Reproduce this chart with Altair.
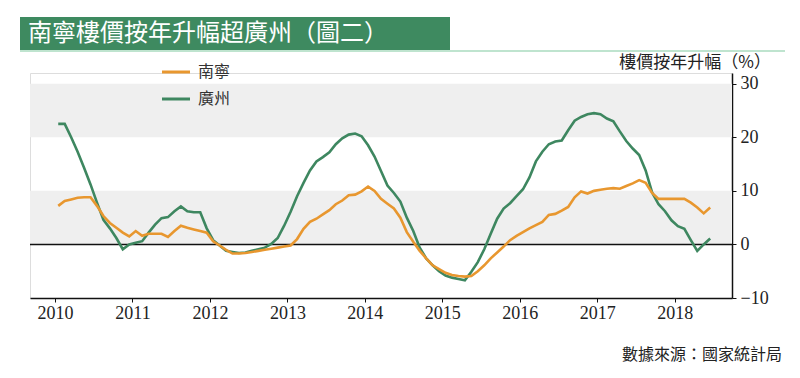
import altair as alt
import pandas as pd

# ---- data (monthly, 2010-01 .. 2018-06) ----
months = pd.date_range("2010-01-01", "2018-06-01", freq="MS")

nanning = [
    7.2, 8.1, 8.4, 8.7, 8.8, 8.8, 7.2, 5.3, 4.0, 3.1, 2.2, 1.5,
    2.5, 1.6, 2.0, 2.0, 2.0, 1.4, 2.5, 3.5, 3.1, 2.8, 2.5, 2.2,
    0.6, -0.2, -1.0, -1.7, -1.7, -1.6, -1.4, -1.2, -1.0, -0.8, -0.6, -0.4,
    -0.2, 1.0, 2.9, 4.2, 4.8, 5.6, 6.4, 7.5, 8.2, 9.2, 9.3, 9.9,
    10.8, 10.0, 8.5, 7.6, 6.7, 5.0, 2.3, 0.5, -1.2, -2.6, -3.9, -4.6,
    -5.3, -5.7, -5.9, -6.0, -5.9, -5.0, -3.9, -2.6, -1.5, -0.4, 0.8, 1.6,
    2.3, 3.0, 3.6, 4.2, 5.5, 5.7, 6.3, 7.0, 8.8, 9.9, 9.5, 10.0,
    10.2, 10.4, 10.5, 10.4, 10.9, 11.4, 12.0, 11.5, 9.6, 8.5, 8.5, 8.5,
    8.5, 8.5, 7.8, 6.9, 5.8, 6.9,
]

guangzhou = [
    22.5, 22.5, 20.0, 17.3, 14.3, 11.2, 7.8, 4.6, 3.0, 1.2, -0.9, 0.0,
    0.3, 0.6, 2.2, 3.7, 4.9, 5.1, 6.2, 7.1, 6.2, 6.0, 6.0, 3.0,
    0.8, -0.2, -1.2, -1.4, -1.6, -1.5, -1.2, -0.9, -0.6, 0.1, 1.2, 3.5,
    6.1, 9.0, 11.5, 13.8, 15.5, 16.3, 17.2, 18.7, 19.8, 20.5, 20.7, 20.2,
    18.5, 16.4, 13.7, 11.0, 9.6, 8.0, 5.0, 2.5, -0.6, -2.6, -3.9, -5.0,
    -5.8, -6.2, -6.45, -6.7, -5.1, -3.3, -0.9, 2.0, 4.8, 6.7, 7.7, 9.0,
    10.3, 12.5, 15.5, 17.3, 18.7, 19.2, 19.4, 21.3, 23.1, 23.8, 24.3, 24.5,
    24.3, 23.5, 23.0, 21.1, 19.3, 17.9, 16.7, 13.8, 9.7, 7.5, 6.2, 4.5,
    3.4, 2.9, 0.8, -1.2, 0.0, 1.1,
]

series_names = ["南寧", "廣州"]
series_colors = ["#e8972f", "#3e8760"]
year_ticks = list(range(2010, 2019))
y_ticks = [-10, 0, 10, 20, 30]
band_low = [0, 20]
band_high = [10, 30]

title_text = "南寧樓價按年升幅超廣州（圖二）"
y_title_text = "樓價按年升幅（%）"
source_text = "數據來源：國家統計局"

CJK = "Noto Sans CJK TC"
NUM = "Liberation Serif"

# ---- tables ----
t = [d.year + (d.month - 1 + 0.5) / 12 for d in months]
df_nn = pd.DataFrame({"t": t, "v": nanning})
df_gz = pd.DataFrame({"t": t, "v": guangzhou})
df_bands = pd.DataFrame({"lo": band_low, "hi": band_high})

W, H = 702, 225
xscale = alt.Scale(domain=[2009.677, 2018.74], nice=False, zero=False)
yscale = alt.Scale(domain=[-10, 32], nice=False, zero=False)

x_axis = alt.Axis(
    values=year_ticks, format="d", title=None, grid=False,
    domainColor="#111", domainWidth=1.5, tickColor="#111", tickSize=4,
    labelFont=NUM, labelFontSize=18, labelColor="#222", labelPadding=2,
    labelFlush=False,
)
y_axis = alt.Axis(
    orient="right", values=y_ticks, title=None, grid=False,
    domainColor="#111", domainWidth=1.5, tickColor="#111", tickSize=4,
    labelFont=NUM, labelFontSize=18, labelColor="#222", labelPadding=4,
)

bands = alt.Chart(df_bands).mark_rect(color="#efefef").encode(
    x=alt.value(0), x2=alt.value(W),
    y=alt.Y("lo:Q", scale=yscale, axis=y_axis), y2="hi:Q",
)

zero = alt.Chart(pd.DataFrame({"z": [0]})).mark_rule(color="#111", strokeWidth=1.5).encode(
    y=alt.Y("z:Q", scale=yscale)
)

line_gz = alt.Chart(df_gz).mark_line(color=series_colors[1], strokeWidth=2.6).encode(
    x=alt.X("t:Q", scale=xscale, axis=x_axis),
    y=alt.Y("v:Q", scale=yscale),
)
line_nn = alt.Chart(df_nn).mark_line(color=series_colors[0], strokeWidth=2.6).encode(
    x=alt.X("t:Q", scale=xscale),
    y=alt.Y("v:Q", scale=yscale),
)

# ---- banner / texts ----
one = pd.DataFrame({"a": [0]})
banner = alt.Chart(one).mark_rect(color="#3e8a60").encode(
    x=alt.value(-10), x2=alt.value(420), y=alt.value(-56), y2=alt.value(-23)
)
banner_line = alt.Chart(one).mark_rule(color="#bfe4cf", strokeWidth=2).encode(
    x=alt.value(-10), x2=alt.value(755), y=alt.value(-22)
)
title = alt.Chart(pd.DataFrame({"s": [title_text]})).mark_text(
    align="left", baseline="middle", font=CJK, fontSize=24, color="white"
).encode(x=alt.value(-2), y=alt.value(-39), text="s:N")

y_title = alt.Chart(pd.DataFrame({"s": [y_title_text]})).mark_text(
    align="right", baseline="middle", font=CJK, fontSize=17, color="#222"
).encode(x=alt.value(741), y=alt.value(-10), text="s:N")

source = alt.Chart(pd.DataFrame({"s": [source_text]})).mark_text(
    align="right", baseline="middle", font=CJK, fontSize=16, color="#222"
).encode(x=alt.value(752), y=alt.value(282), text="s:N")

# legend (manual)
leg_y = [-1, 26]
legend_layers = []
for name, col, yy in zip(series_names, series_colors, leg_y):
    legend_layers.append(
        alt.Chart(one).mark_rule(color=col, strokeWidth=3).encode(
            x=alt.value(132), x2=alt.value(160), y=alt.value(yy)
        )
    )
    legend_layers.append(
        alt.Chart(pd.DataFrame({"s": [name]})).mark_text(
            align="left", baseline="middle", font=CJK, fontSize=16, color="#333"
        ).encode(x=alt.value(168), y=alt.value(yy), text="s:N")
    )

chart = alt.layer(
    bands, zero, line_gz, line_nn, banner, banner_line, title, y_title, source,
    *legend_layers
).properties(
    width=W, height=H,
    padding={"left": 22, "top": 65, "right": 58, "bottom": 70},
    autosize=alt.AutoSizeParams(type="none"),
).configure_view(stroke=None).configure(background="white")

chart.save("out.html", embed_options={"renderer": "svg", "actions": False})
